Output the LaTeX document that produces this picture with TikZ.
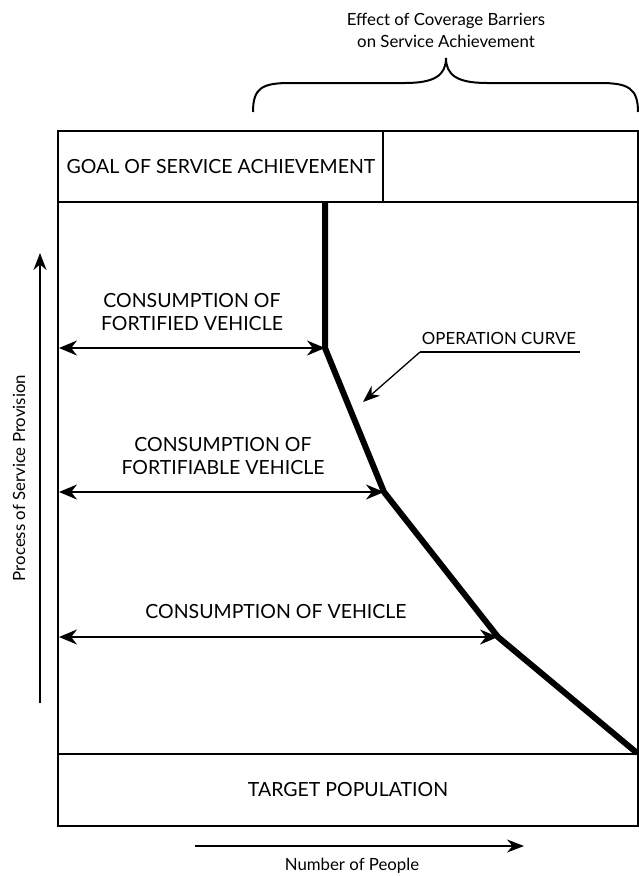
\documentclass[tikz,border=0pt]{standalone}
\usepackage{fontspec}
\setmainfont{Lato}
\usetikzlibrary{arrows.meta}
\begin{document}
\begin{tikzpicture}[x=1pt,y=-1pt,
  frame/.style={line width=2pt},
  curve/.style={line width=6pt,line join=miter},
  dim/.style={line width=2pt,{Stealth[length=18pt,width=15pt]}-{Stealth[length=18pt,width=15pt]}},
  axis/.style={line width=1.5pt,-{Stealth[length=17pt,width=13pt]}},
  caps/.style={font=\fontsize{19.5}{23}\selectfont,align=center,inner sep=0pt},
  small/.style={font=\fontsize{16.8}{22}\selectfont,align=center,inner sep=0pt}]
\useasboundingbox (0,0) rectangle (639,876);
% frame
\draw[frame] (58,131) rectangle (638,826);
\draw[frame] (58,202) -- (638,202);
\draw[frame] (383,131) -- (383,202);
\draw[frame] (58,754) -- (638,754);
% texts
\node[caps] (goal) at (221,167) {GOAL OF SERVICE ACHIEVEMENT};
\node[caps] (target) at (348,790) {TARGET POPULATION};
\node[caps] (l1) at (192,312) {CONSUMPTION OF\\FORTIFIED VEHICLE};
\node[caps] (l2) at (223,456) {CONSUMPTION OF\\FORTIFIABLE VEHICLE};
\node[caps] (l3) at (276,612) {CONSUMPTION OF VEHICLE};
\node[caps,font=\fontsize{16.8}{20}\selectfont] (op) at (499,338) {OPERATION CURVE};
% curve
\coordinate (c0) at (325,203);
\coordinate (c1) at (325,348);
\coordinate (c2) at (384,492);
\coordinate (c3) at (498,637);
\coordinate (c4) at (637,753);
\draw[curve] (c0) -- (c1) -- (c2) -- (c3) -- (c4);
% dimension arrows
\coordinate (a1) at (59,348);
\coordinate (a2) at (59,492);
\coordinate (a3) at (59,637);
\draw[dim] (a1) -- (c1);
\draw[dim] (a2) -- (c2);
\draw[dim] (a3) -- (c3);
% operation curve pointer
\coordinate (u1) at (420,352);
\coordinate (u2) at (580,352);
\coordinate (ptip) at (363,402);
\draw[line width=1.3pt] (u2) -- (u1);
\draw[line width=1.3pt,-{Stealth[length=17pt,width=13pt]}] (u1) -- (ptip);
% brace
\coordinate (bl) at (253,112);
\coordinate (br) at (638,112);
\coordinate (bm) at (446,58);
\draw[line width=2pt] (bl) .. controls (253,88) and (262,83) .. (290,83)
  -- (405,83) .. controls (435,83) and (446,75) .. (bm)
  .. controls (446,75) and (457,83) .. (487,83)
  -- (600,83) .. controls (628,83) and (638,88) .. (br);
\node[small] (title) at (446,30) {Effect of Coverage Barriers\\on Service Achievement};
% axes
\coordinate (v0) at (40,703);
\coordinate (v1) at (40,253);
\draw[axis] (v0) -- (v1);
\node[small,rotate=90] (vl) at (19,478) {Process of Service Provision};
\coordinate (h0) at (195,846);
\coordinate (h1) at (524,846);
\draw[axis] (h0) -- (h1);
\node[small] (hl) at (352,866) {Number of People};
\end{tikzpicture}
\end{document}
